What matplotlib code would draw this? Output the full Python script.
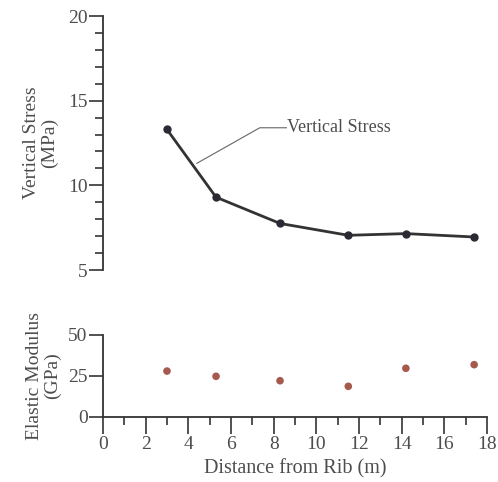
import matplotlib.pyplot as plt
from matplotlib.ticker import MultipleLocator

plt.rcParams['font.family'] = ['Liberation Serif', 'DejaVu Serif']

# data
dist = [3.0, 5.3, 8.3, 11.5, 14.2, 17.4]
vstress = [13.3, 9.3, 7.75, 7.05, 7.15, 6.95]
emod = [28.0, 24.8, 22.1, 18.7, 29.7, 31.9]

txt = '#4d4d4d'
line_c = '#333333'

fig = plt.figure(figsize=(4.98, 4.82), dpi=100)

# upper panel - vertical stress
ax0 = fig.add_axes([0.2068, 0.4398, 0.771, 0.527])
ax0.plot(dist, vstress, color=line_c, lw=2.0, marker='o', ms=5,
         mfc='#2a2a35', mec='#2a2a35')
ax0.set_xlim(0, 18)
ax0.set_ylim(5, 20)
ax0.spines[['top', 'right', 'bottom']].set_visible(False)
ax0.spines['left'].set_color(line_c)
ax0.spines['left'].set_linewidth(1.3)
ax0.set_xticks([])
ax0.yaxis.set_major_locator(MultipleLocator(5))
ax0.yaxis.set_minor_locator(MultipleLocator(1))
ax0.tick_params(axis='y', which='major', length=10, width=1.2, color=line_c,
                labelcolor=txt, labelsize=14, pad=1)
ax0.tick_params(axis='y', which='minor', length=6, width=1.2, color=line_c)
ax0.set_ylabel('Vertical Stress\n(MPa)', color=txt, fontsize=14, labelpad=7,
               linespacing=1.1)
ax0.patch.set_alpha(0)

# leader line for the label
ax0.plot([4.4, 7.35, 8.6], [11.3, 13.4, 13.4], color='#666666', lw=0.8)
ax0.text(8.65, 13.4, 'Vertical Stress', color=txt, fontsize=13,
         va='center', ha='left')

# lower panel - elastic modulus
ax1 = fig.add_axes([0.2068, 0.1349, 0.771, 0.1701])
ax1.scatter(dist, emod, s=30, color='#a65a4e', edgecolors='none', zorder=3)
ax1.set_xlim(0, 18)
ax1.set_ylim(0, 50)
ax1.spines[['top', 'right']].set_visible(False)
for s in ['left', 'bottom']:
    ax1.spines[s].set_color(line_c)
    ax1.spines[s].set_linewidth(1.3)
ax1.xaxis.set_major_locator(MultipleLocator(2))
ax1.xaxis.set_minor_locator(MultipleLocator(1))
ax1.set_yticks([0, 25, 50])
ax1.tick_params(axis='x', which='major', length=12, width=1.2, color=line_c,
                labelcolor=txt, labelsize=14, pad=2)
ax1.tick_params(axis='x', which='minor', length=6, width=1.2, color=line_c)
ax1.tick_params(axis='y', which='major', length=10, width=1.2, color=line_c,
                labelcolor=txt, labelsize=14, pad=1)
ax1.set_ylabel('Elastic Modulus\n(GPa)', color=txt, fontsize=14, labelpad=5,
               linespacing=1.1)
ax1.set_xlabel('Distance from Rib (m)', color=txt, fontsize=14.5, labelpad=4)
ax1.patch.set_alpha(0)

fig.savefig('out.png', dpi=100)
